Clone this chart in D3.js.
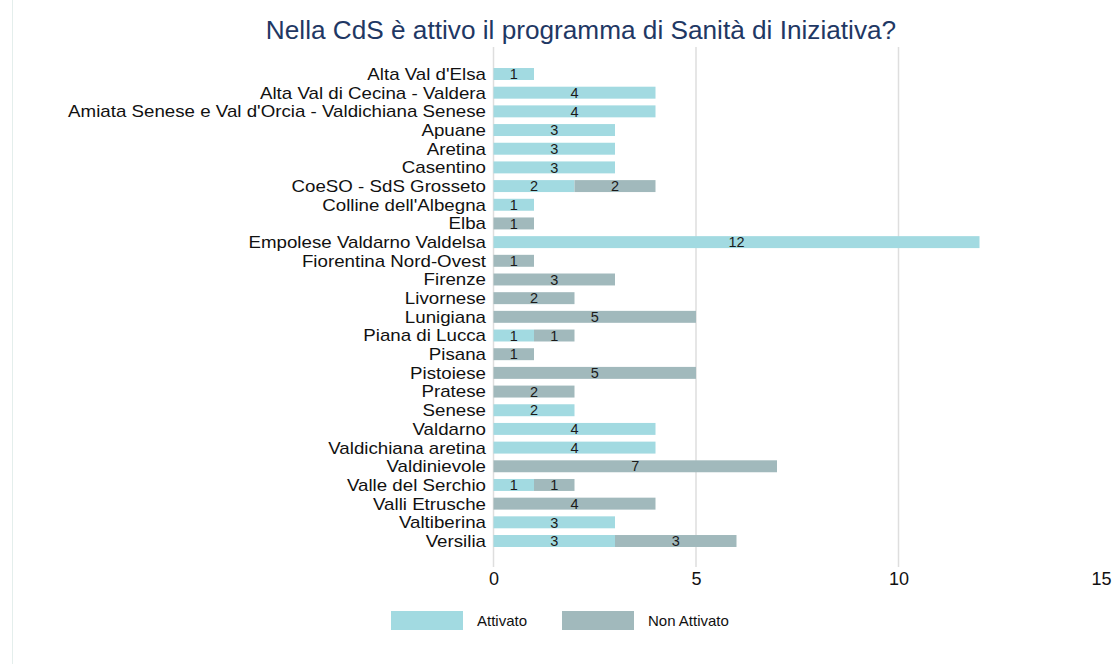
<!DOCTYPE html>
<html>
<head>
<meta charset="utf-8">
<script src="https://cdn.jsdelivr.net/npm/d3@7"></script>
<style>
  body { margin: 0; background: #ffffff; }
  text { font-family: "Liberation Sans", Arial, sans-serif; }
</style>
</head>
<body>
<div id="chart"></div>
<script>
const categories = [
  "Alta Val d'Elsa",
  "Alta Val di Cecina - Valdera",
  "Amiata Senese e Val d'Orcia - Valdichiana Senese",
  "Apuane",
  "Aretina",
  "Casentino",
  "CoeSO - SdS Grosseto",
  "Colline dell'Albegna",
  "Elba",
  "Empolese Valdarno Valdelsa",
  "Fiorentina Nord-Ovest",
  "Firenze",
  "Livornese",
  "Lunigiana",
  "Piana di Lucca",
  "Pisana",
  "Pistoiese",
  "Pratese",
  "Senese",
  "Valdarno",
  "Valdichiana aretina",
  "Valdinievole",
  "Valle del Serchio",
  "Valli Etrusche",
  "Valtiberina",
  "Versilia",
];
const attivato = [1, 4, 4, 3, 3, 3, 2, 1, 0, 12, 0, 0, 0, 0, 1, 0, 0, 0, 2, 4, 4, 0, 1, 0, 3, 3];
const nonAttivato = [0, 0, 0, 0, 0, 0, 2, 0, 1, 0, 1, 3, 2, 5, 1, 1, 5, 2, 0, 0, 0, 7, 1, 4, 0, 3];
const seriesNames = ["Attivato", "Non Attivato"];
const xTicks = [0, 5, 10, 15];
const title = "Nella CdS è attivo il programma di Sanità di Iniziativa?";

const width = 1113;
const height = 664;
const colors = { "Attivato": "#a2dae1", "Non Attivato": "#a1b9bc" };

const svg = d3
  .select("#chart")
  .append("svg")
  .attr("width", width)
  .attr("height", height);

// thin frame line on the left
svg
  .append("line")
  .attr("x1", 12.5)
  .attr("x2", 12.5)
  .attr("y1", 0)
  .attr("y2", height)
  .attr("stroke", "#e4eeec")
  .attr("stroke-width", 1);

const x = d3.scaleLinear().domain([0, 15]).range([493.5, 1101]);
const y = d3
  .scaleBand()
  .domain(categories)
  .range([61.3, 553.7])
  .padding(0.36);

const gridTop = 47;
const gridBottom = 567;

// gridlines
svg
  .selectAll("line.grid")
  .data(xTicks.filter((t) => t < 15))
  .join("line")
  .attr("class", "grid")
  .attr("x1", (d) => x(d))
  .attr("x2", (d) => x(d))
  .attr("y1", gridTop)
  .attr("y2", gridBottom)
  .attr("stroke", "#dedede")
  .attr("stroke-width", 1.5);

// title
svg
  .append("text")
  .attr("x", 581)
  .attr("y", 39)
  .attr("text-anchor", "middle")
  .attr("fill", "#1f3864")
  .style("font-size", "26.2px")
  .text(title);

// stacked bars
const rows = categories.map((c, i) => ({
  name: c,
  "Attivato": attivato[i],
  "Non Attivato": nonAttivato[i],
}));
const stacked = d3.stack().keys(seriesNames)(rows);

const layers = svg
  .selectAll("g.layer")
  .data(stacked)
  .join("g")
  .attr("class", "layer")
  .attr("fill", (d) => colors[d.key]);

layers
  .selectAll("rect")
  .data((d) => d.filter((s) => s[1] - s[0] > 0))
  .join("rect")
  .attr("x", (d) => x(d[0]))
  .attr("y", (d) => y(d.data.name))
  .attr("width", (d) => x(d[1]) - x(d[0]))
  .attr("height", y.bandwidth());

// value labels
layers
  .selectAll("text")
  .data((d) => d.filter((s) => s[1] - s[0] > 0))
  .join("text")
  .attr("x", (d) => (x(d[0]) + x(d[1])) / 2)
  .attr("y", (d) => y(d.data.name) + y.bandwidth() / 2)
  .attr("dy", "0.36em")
  .attr("text-anchor", "middle")
  .attr("fill", "#1a1a1a")
  .style("font-size", "14.5px")
  .text((d) => d[1] - d[0]);

// category labels (glyphs a bit wide, like the original)
const catG = svg
  .append("g")
  .attr("transform", "translate(486,0) scale(1.17,1)");
catG
  .selectAll("text.cat")
  .data(categories)
  .join("text")
  .attr("class", "cat")
  .attr("x", 0)
  .attr("y", (d) => y(d) + y.bandwidth() / 2)
  .attr("dy", "0.37em")
  .attr("text-anchor", "end")
  .attr("fill", "#111")
  .style("font-size", "16px")
  .text((d) => d);

// x axis
const xAxis = d3.axisBottom(x).tickValues(xTicks).tickSize(0).tickPadding(5);
const axisG = svg
  .append("g")
  .attr("transform", `translate(0,${gridBottom})`)
  .call(xAxis);
axisG.select(".domain").remove();
axisG
  .selectAll("text")
  .style("font-family", "'Liberation Sans', Arial, sans-serif")
  .style("font-size", "18px")
  .attr("fill", "#111");

// legend
const legend = svg
  .selectAll("g.legend")
  .data(seriesNames)
  .join("g")
  .attr("class", "legend")
  .attr("transform", (d, i) => `translate(${391 + i * 171},611)`);

legend
  .append("rect")
  .attr("width", 72)
  .attr("height", 19)
  .attr("fill", (d) => colors[d]);

legend
  .append("text")
  .attr("x", 86)
  .attr("y", 9.5)
  .attr("dy", "0.36em")
  .attr("fill", "#111")
  .style("font-size", "15px")
  .text((d) => d);
</script>
</body>
</html>
